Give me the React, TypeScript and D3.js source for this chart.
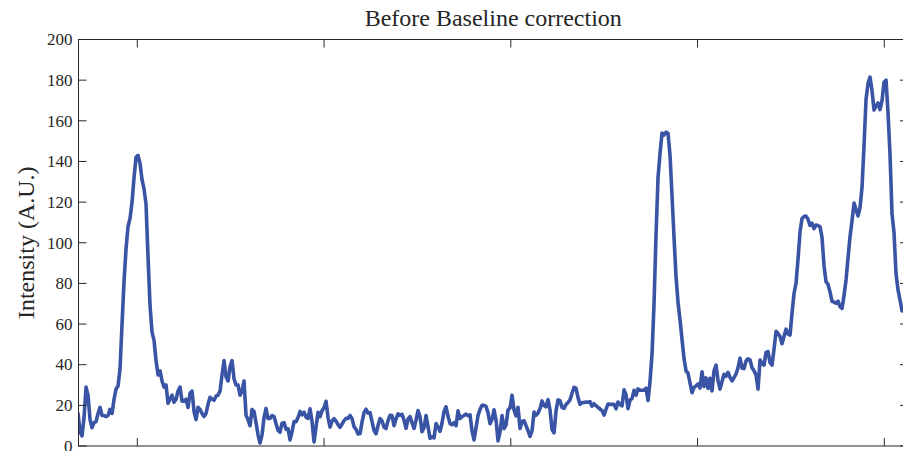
import React from 'react';
import * as d3 from 'd3';

// Spectrum drawn before baseline correction
const chartTitle = 'Before Baseline correction';
const yAxisLabel = 'Intensity (A.U.)';

const yTickValues = [0, 20, 40, 60, 80, 100, 120, 140, 160, 180, 200];
const xTickValues = [400, 600, 800, 1000, 1200];

const xDomain: [number, number] = [337, 1225.4];
const yDomain: [number, number] = [0, 200];

// uniform Raman-shift grid of the detector
const shiftStart = 336.5;
const shiftStep = 2.142;

const intensity: number[] = [
  16, 7, 5, 14, 29, 25, 13, 9, 11.5, 12, 16, 19, 15, 15, 14.5, 15, 18, 16, 23, 28,
  29.5, 38, 60, 81, 97, 108, 112, 120, 132, 142, 143, 139, 131, 126.5, 119, 93, 69, 56, 52, 42,
  35, 37, 32, 29, 30, 21,
  23, 25, 21.5, 23, 27, 29, 22, 22, 23, 19, 26, 27, 17, 13, 19, 18, 16, 14.5, 16, 20.5,
  24, 23, 22.5, 24.5, 25, 27, 35, 42, 34, 32, 39, 42, 33, 30, 30, 25, 27, 32, 15, 13, 10,
  18, 17, 11.5, 5.5, 1.5, 5.5, 14, 18.5, 13.5, 13.5, 15, 14.5, 11, 7.7, 6.8, 11.2, 11.5, 8.2, 8.5, 3,
  7, 12, 12, 14, 17, 15.3, 16.6, 14.2, 13.6, 18.3, 12, 2, 9.5, 16.6, 14.4, 17.3, 18.8, 22, 14, 9.3,
  12.2, 13.5, 12.2, 10.5, 9.2, 10.8, 12.5, 13.6, 13.6, 15, 13.5, 9.5, 8.2, 5.9, 6.1, 11.8, 16.4, 18.1, 16.2, 16.4,
  12, 7.6, 6, 10.1, 13.5, 12.3, 9.3, 8.6, 12.5, 15.1, 15, 10, 13.3, 15.8, 15.2, 15.6, 12.8, 8.7, 13.2, 14.5,
  11.4, 8.6, 12.7, 17.4,
  14.4, 7, 9, 15, 9.5, 3.8, 4.5, 4, 11, 9.3, 7.2, 11.3, 17, 19.3, 14.6, 11, 10.5, 11.5, 10, 17.3,
  13.5, 14.5, 15, 15.7, 14.9, 15.3, 7.5, 3, 9, 15, 18, 20, 20, 19.5, 16.3, 11, 13, 17.8, 12.8, 2.5,
  7, 15, 8.5, 10.3, 17.7, 18.7, 25, 17.7, 14.8, 19, 8.6, 12.1, 12.4, 10, 7.5, 4.7, 7.5, 16.7, 15.1, 16.3,
  18.4, 22.2, 19.8, 19.3, 22.8, 17.7, 8.1, 6.5, 17.3, 22.7, 22.3, 19, 18.5, 20.5, 21.4, 22.7, 26, 28.8, 28.4, 23.8,
  20.5, 21.4, 21.4, 21.6, 21.5,
  21.8, 19.6, 20.8, 19.9, 18.9, 18.2, 17.4, 15.2, 18.1, 20.6, 20.5, 20.5, 20.5, 18.3, 21.6, 20.5, 19.7, 27.6, 25.2, 18.4,
  22.6, 23.3, 27.4, 25, 28.1, 27.4, 27.4, 27.4, 28.4, 22.4, 31.8, 45.5, 70, 104, 132, 144, 154, 153, 154.4, 153.8,
  143, 123, 102.6, 83.3, 70.6, 62, 52.4, 43, 37, 35.8, 31, 26.2, 28.8, 29.6, 30.5, 28.5, 36.5, 29.3, 33.5, 28.3,
  33.3, 27.1, 37, 39.8, 32.2, 28, 31.7, 35.3, 34.3, 36.2, 33.8, 32, 33.6, 35.5, 38.5, 43.2, 38.3, 38.1, 41.8, 42.9,
  42.4, 38.5, 37,
  35, 28, 42.3, 40.6, 39.8, 46, 46.4, 41, 39.8, 47.6, 56.4, 55.4, 53.9, 50.3, 53.9, 57.5, 55.1, 54.6, 65.4, 75,
  80.2, 92, 105.4, 111.9, 112.9, 113.1, 111.6, 108.5, 109.6, 107, 108.7, 108.5, 107.9, 102.5, 88.6, 80.8, 79.5, 75.8, 71.2, 70.8,
  70.2, 71.3, 68.6, 67.7, 74.1, 81.7, 92.5, 103, 110.8, 119.5, 116.3, 113.2, 117.3, 127.3, 147.8, 170.5, 178.4, 181.5, 174.8, 165.3,
  167.2, 168.8, 165.5, 169.9, 179, 180, 163.9, 143.2, 114.2, 104.9, 84.7, 76.8, 71.8, 66.4,
];

const shift = intensity.map((_, i) => shiftStart + i * shiftStep);

const WIDTH = 903;
const HEIGHT = 451;
const plot = { left: 78.5, top: 39.5, right: 908, bottom: 446 };

const axisColor = '#262626';
const lineColor = '#3953a5';
const serif = '"Liberation Serif", "Times New Roman", serif';
const tickLen = 8;

export default function App() {
  const x = d3.scaleLinear().domain(xDomain).range([plot.left, plot.right]);
  const y = d3.scaleLinear().domain(yDomain).range([plot.bottom, plot.top]);

  const path = d3
    .line<number>()
    .x((_, i) => x(shift[i]))
    .y((d) => y(d))
    .curve(d3.curveLinear)(intensity);

  return (
    <svg
      width={WIDTH}
      height={HEIGHT}
      style={{ position: 'absolute', left: 0, top: 0, background: '#fff' }}
    >
      <rect x={0} y={0} width={WIDTH} height={HEIGHT} fill="#fff" />
      <defs>
        <clipPath id="plot-area">
          <rect x={plot.left} y={plot.top} width={plot.right - plot.left} height={plot.bottom - plot.top} />
        </clipPath>
      </defs>

      <path
        d={path ?? ''}
        fill="none"
        stroke={lineColor}
        strokeWidth={3.6}
        strokeLinejoin="round"
        strokeLinecap="round"
        clipPath="url(#plot-area)"
      />

      {/* axes box */}
      <rect
        x={plot.left}
        y={plot.top}
        width={plot.right - plot.left}
        height={plot.bottom - plot.top}
        fill="none"
        stroke={axisColor}
        strokeWidth={1}
      />

      {yTickValues.map((t) => (
        <g key={`y${t}`}>
          <line x1={plot.left} x2={plot.left + tickLen} y1={y(t)} y2={y(t)} stroke={axisColor} />
          <line x1={plot.right} x2={plot.right - tickLen} y1={y(t)} y2={y(t)} stroke={axisColor} />
          <text
            x={plot.left - 6}
            y={y(t)}
            dy="0.34em"
            textAnchor="end"
            fontFamily={serif}
            fontSize={17}
            fill={axisColor}
          >
            {t}
          </text>
        </g>
      ))}

      {xTickValues.map((t) => (
        <g key={`x${t}`}>
          <line x1={x(t)} x2={x(t)} y1={plot.bottom} y2={plot.bottom - tickLen} stroke={axisColor} />
          <line x1={x(t)} x2={x(t)} y1={plot.top} y2={plot.top + tickLen} stroke={axisColor} />
        </g>
      ))}

      <text
        x={(plot.left + plot.right) / 2}
        y={26}
        textAnchor="middle"
        fontFamily={serif}
        fontSize={24}
        fill={axisColor}
      >
        {chartTitle}
      </text>

      <text
        transform={`translate(34, ${(plot.top + plot.bottom) / 2}) rotate(-90)`}
        textAnchor="middle"
        fontFamily={serif}
        fontSize={24}
        fill={axisColor}
      >
        {yAxisLabel}
      </text>
    </svg>
  );
}
